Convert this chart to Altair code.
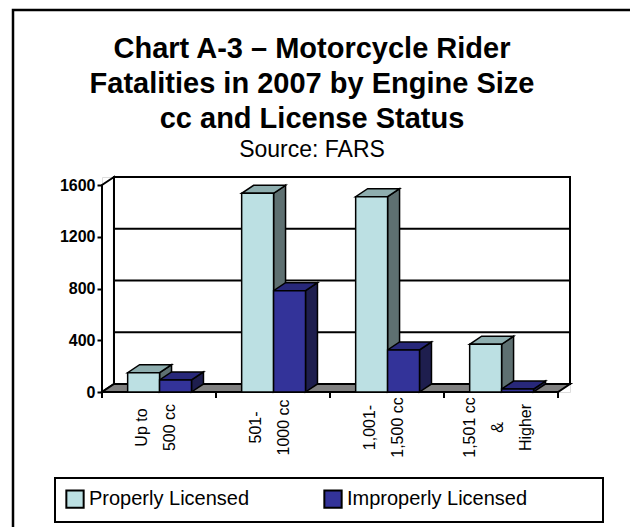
import altair as alt
import pandas as pd

# ---- data ----
categories = ["Up to 500 cc", "501-1000 cc", "1,001-1,500 cc", "1,501 cc & Higher"]
cat_lines = [["Up to", "500 cc"], ["501-", "1000 cc"], ["1,001-", "1,500 cc"], ["1,501 cc", "&", "Higher"]]
series = ["Properly Licensed", "Improperly Licensed"]
properly = [149, 1536, 1510, 369]
improperly = [93, 783, 325, 23]
y_ticks = [0, 400, 800, 1200, 1600]

# ---- styling constants ----
FRONT = {"Properly Licensed": "#BCE0E3", "Improperly Licensed": "#333399"}
TOP = {"Properly Licensed": "#8EAEAF", "Improperly Licensed": "#28287A"}
SIDE = {"Properly Licensed": "#5E7071", "Improperly Licensed": "#1E1E4E"}
BW = 0.28          # bar width (category units)
DX = 0.105         # depth in x (category units)
DY = 62.0          # depth in y (value units)
YMAX = 1600
NC = len(categories)
W, H = 468, 215
LINE_H = 28
UNIT_PX = W / (NC + DX)

xs = alt.Scale(domain=[0, NC + DX], nice=False, zero=False)
ys = alt.Scale(domain=[0, YMAX + DY], nice=False, zero=False)

# ---- build face tables ----
fronts, sides, tops = [], [], []
for s_i, (sname, vals) in enumerate(zip(series, [properly, improperly])):
    for c_i, v in enumerate(vals):
        center = c_i + 0.505
        xl = center - BW if s_i == 0 else center
        xr = xl + BW
        bid = f"{s_i}-{c_i}"
        fronts.append(dict(series=sname, cat=categories[c_i], x=xl, x2=xr, y=0, y2=v))
        sides += [dict(series=sname, bid=bid, x=xr, y=0, y2=v),
                  dict(series=sname, bid=bid, x=xr + DX, y=DY, y2=v + DY)]
        tops += [dict(series=sname, bid=bid, x=xl, y=v, y2=v),
                 dict(series=sname, bid=bid, x=xl + DX, y=v, y2=v + DY),
                 dict(series=sname, bid=bid, x=xr, y=v, y2=v + DY),
                 dict(series=sname, bid=bid, x=xr + DX, y=v + DY, y2=v + DY)]
fronts, sides, tops = pd.DataFrame(fronts), pd.DataFrame(sides), pd.DataFrame(tops)

back = pd.DataFrame([dict(x=DX, x2=NC + DX, y=DY, y2=YMAX + DY)])
grid = pd.DataFrame([dict(x=DX, x2=NC + DX, y=t + DY) for t in y_ticks[1:]])
leftwall = pd.DataFrame([dict(x=0, y=0, y2=YMAX), dict(x=DX, y=DY, y2=YMAX + DY)])
floor = pd.DataFrame([dict(x=0, y=0, y2=0), dict(x=DX, y=0, y2=DY),
                      dict(x=NC, y=0, y2=DY), dict(x=NC + DX, y=DY, y2=DY)])
ticks = pd.DataFrame(dict(x=list(range(NC + 1))))
dummy = pd.DataFrame(dict(a=[0]))

labels_js = "[" + ",".join("[" + ",".join(f"'{l}'" for l in ls) + "]" for ls in cat_lines) + "]"
# label anchors: shift multi-line blocks so each block is centred on its category
label_pos = [i + 0.505 - ((len(ls) - 1) * (LINE_H / 2) + 4) / UNIT_PX for i, ls in enumerate(cat_lines)]

frame = alt.Chart(dummy).mark_rect(fill="transparent", stroke="black", strokeWidth=2.5).encode(
    x=alt.value(-89), x2=alt.value(560), y=alt.value(-167), y2=alt.value(380))

back_l = alt.Chart(back).mark_rect(fill="white", stroke="black", strokeWidth=2).encode(
    x=alt.X("x:Q", scale=xs, title=None,
            axis=alt.Axis(values=label_pos, labelExpr=labels_js + "[floor(datum.value)]",
                          labelAngle=270, labelAlign="center", labelBaseline="middle",
                          labelPadding=35, labelFontSize=16, labelLineHeight=LINE_H,
                          labelFont="Liberation Sans", labelColor="black", zindex=1,
                          domain=False, ticks=False, grid=False, labelOverlap=False)),
    x2="x2:Q",
    y=alt.Y("y:Q", scale=ys, title=None,
            axis=alt.Axis(values=y_ticks, format="d", labelFontSize=16, labelFontWeight="bold",
                          labelFont="Liberation Sans", labelColor="black", zindex=1,
                          tickColor="black", tickSize=5, tickWidth=2, labelPadding=2,
                          domain=False, grid=False)),
    y2="y2:Q")

grid_l = alt.Chart(grid).mark_rule(color="black", strokeWidth=2).encode(
    x=alt.X("x:Q", scale=xs), x2="x2:Q", y=alt.Y("y:Q", scale=ys))

leftwall_l = alt.Chart(leftwall).mark_area(fill="white", stroke="black", strokeWidth=2).encode(
    x=alt.X("x:Q", scale=xs), y=alt.Y("y:Q", scale=ys), y2="y2:Q")

floor_l = alt.Chart(floor).mark_area(fill="#808080", stroke="black", strokeWidth=2).encode(
    x=alt.X("x:Q", scale=xs), y=alt.Y("y:Q", scale=ys), y2="y2:Q")

face_layers = []
for df, pal in [(sides, SIDE), (tops, TOP)]:
    for sname in series:
        face_layers.append(
            alt.Chart(df[df.series == sname]).mark_area(
                fill=pal[sname], stroke="black", strokeWidth=1.5, strokeJoin="miter").encode(
                x=alt.X("x:Q", scale=xs), y=alt.Y("y:Q", scale=ys), y2="y2:Q", detail="bid:N"))

front_l = alt.Chart(fronts).mark_rect(stroke="black", strokeWidth=1.5).encode(
    x=alt.X("x:Q", scale=xs), x2="x2:Q", y=alt.Y("y:Q", scale=ys), y2="y2:Q",
    color=alt.Color("series:N", scale=alt.Scale(domain=series, range=[FRONT[s] for s in series]),
                    legend=alt.Legend(title=None, orient="none", legendX=-37, legendY=312,
                                      direction="horizontal", columns=2, columnPadding=70,
                                      symbolType="square", symbolSize=300,
                                      symbolStrokeColor="black", symbolStrokeWidth=2,
                                      symbolOpacity=1, labelFontSize=20, labelFont="Liberation Sans",
                                      labelColor="black", labelOffset=4, padding=0, labelLimit=400)))

ticks_l = alt.Chart(ticks).mark_rule(color="black", strokeWidth=2, y2Offset=6).encode(
    x=alt.X("x:Q", scale=xs), y=alt.datum(0), y2=alt.datum(0))

legend_box = alt.Chart(dummy).mark_rect(fill="white", stroke="black", strokeWidth=2).encode(
    x=alt.value(-47), x2=alt.value(501), y=alt.value(301), y2=alt.value(345))

chart = alt.layer(
    frame, back_l, grid_l, leftwall_l, floor_l, *face_layers, front_l, ticks_l, legend_box
).properties(
    width=W, height=H,
    autosize=alt.AutoSizeParams(type="none"),
    padding={"left": 94, "top": 169, "right": 60, "bottom": 135},
    title=alt.TitleParams(
        text=["Chart A-3 – Motorcycle Rider", "Fatalities in 2007 by Engine Size", "cc and License Status"],
        subtitle="Source: FARS",
        font="Liberation Sans", fontSize=29, fontWeight="bold", lineHeight=35, color="black",
        subtitleFont="Liberation Sans", subtitleFontSize=23, subtitleColor="black", subtitlePadding=5,
        anchor="middle", frame="group", dx=-24, offset=-153, zindex=1),
).configure_view(stroke=None).configure(background="white")

chart.save("out.html", embed_options={"renderer": "svg", "actions": False})
